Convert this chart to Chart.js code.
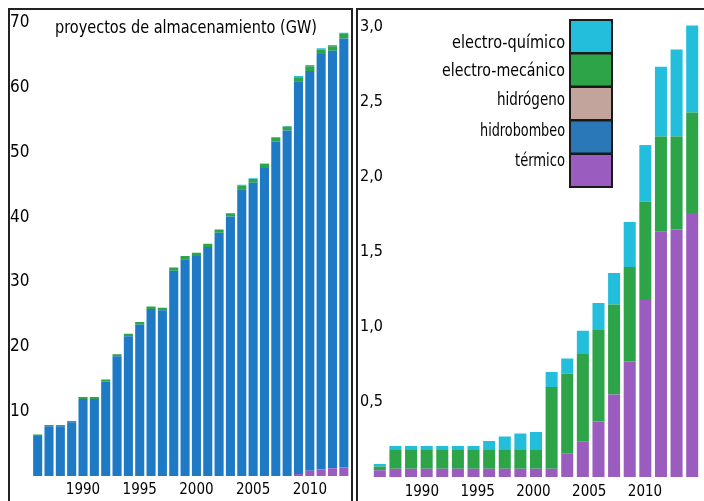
<!DOCTYPE html>
<html>
<head>
<meta charset="utf-8">
<script src="https://cdn.jsdelivr.net/npm/chart.js@4.4.1/dist/chart.umd.min.js"></script>
<style>
  body { margin: 0; background: #fff; width: 704px; height: 501px; overflow: hidden; position: relative; }
  .box { position: absolute; top: 0; height: 501px; }
  .frame { position: absolute; border: 2px solid #222; border-bottom: none; pointer-events: none; }
</style>
</head>
<body>
<div class="box" style="left:0;width:355px"><canvas id="chartIzq"></canvas></div>
<div class="box" style="left:355px;width:349px"><canvas id="chartDer"></canvas></div>
<div class="frame" style="left:8px;top:8px;width:341px;height:493px"></div>
<div class="frame" style="left:356px;top:8px;width:400px;height:493px;border-right:none"></div>
<script>
// --- datos panel izquierdo (GW) ---
const anios = ['1986','1987','1988','1989','1990','1991','1992','1993','1994','1995','1996','1997','1998','1999',
               '2000','2001','2002','2003','2004','2005','2006','2007','2008','2009','2010','2011','2012','2013'];
const izqTermico  = [0,0,0,0,0,0,0,0,0,0,0,0,0,0,0,0,0,0,0,0,0,0,0,0.3,0.8,1.0,1.2,1.3];
const izqHidro    = [6.2,7.7,7.7,8.3,11.9,11.9,14.6,18.5,21.6,23.4,25.8,25.6,31.7,33.5,
                     34.0,35.4,37.6,40.1,44.3,45.3,47.6,51.7,53.4,60.7,61.8,64.2,64.5,66.3];
const izqMecanico = [0.2,0.2,0.2,0.2,0.3,0.3,0.3,0.3,0.4,0.4,0.4,0.4,0.5,0.5,
                     0.5,0.5,0.5,0.5,0.6,0.6,0.6,0.6,0.6,0.6,0.7,0.7,0.7,0.7];
const izqQuimico  = [0,0,0,0,0,0,0,0,0,0,0,0,0,0,0,0,0,0,0.1,0.1,0.1,0.1,0.1,0.2,0.2,0.2,0.2,0.2];
const izqTicks = [0, 10, 20, 30, 40, 50, 60, 70];

// --- datos panel derecho (GW, sin hidrobombeo) ---
const barrasDer = ['b1','b2','b3','b4','b5','b6','b7','b8','b9','b10','b11','b12','b13','b14',
                   'b15','b16','b17','b18','b19','b20','b21'];
const derTermico  = [0.045,0.055,0.055,0.055,0.055,0.055,0.055,0.055,0.055,0.055,0.055,
                     0.055,0.155,0.235,0.37,0.55,0.77,1.18,1.635,1.65,1.76];
const derHidro    = [0,0,0,0,0,0,0,0,0,0,0,0,0,0,0,0,0,0,0,0,0];
const derHidrogeno= [0,0,0,0,0,0,0,0,0,0,0,0,0,0,0,0,0,0,0,0,0];
const derMecanico = [0.025,0.13,0.13,0.13,0.13,0.13,0.13,0.13,0.13,0.13,0.13,
                     0.545,0.535,0.59,0.61,0.60,0.63,0.655,0.635,0.62,0.67];
const derQuimico  = [0.017,0.022,0.022,0.022,0.022,0.022,0.022,0.055,0.085,0.105,0.115,
                     0.10,0.10,0.15,0.18,0.21,0.30,0.378,0.465,0.58,0.58];
const derTicks = [0.5, 1, 1.5, 2, 2.5, 3];
const derTicksAnios = [1990, 1995, 2000, 2005, 2010];

const colores = {
  quimico: '#22bedb',
  mecanico: '#2ca447',
  hidrogeno: '#c3a49d',
  hidro: '#2a78b8',
  termico: '#9a5cbf'
};
const fuente = "'Liberation Sans Narrow', 'DejaVu Sans Condensed', sans-serif";

// texto ajustado a un ancho (tipografia estrecha del original)
function textoAjustado(ctx, txt, x, y, ancho, alin) {
  ctx.save();
  const m = ctx.measureText(txt).width;
  ctx.translate(x, y);
  ctx.scale(ancho / m, 1);
  ctx.textAlign = alin;
  ctx.fillText(txt, 0, 0);
  ctx.restore();
}

const tituloIzq = {
  id: 'tituloIzq',
  afterDraw(chart) {
    const ctx = chart.ctx;
    ctx.save();
    ctx.fillStyle = '#000';
    ctx.font = '17px ' + fuente;
    ctx.textBaseline = 'middle';
    textoAjustado(ctx, 'proyectos de almacenamiento (GW)', 186, 29, 262, 'center');
    ctx.restore();
  }
};

const leyendaDer = {
  id: 'leyendaDer',
  afterDraw(chart) {
    const ctx = chart.ctx;
    const items = [
      ['electro-químico', colores.quimico, 113, 44],
      ['electro-mecánico', colores.mecanico, 123, 72],
      ['hidrógeno', colores.hidrogeno, 68, 101],
      ['hidrobombeo', colores.hidro, 85, 132],
      ['térmico', colores.termico, 50, 162]
    ];
    ctx.save();
    ctx.font = '17px ' + fuente;
    ctx.textBaseline = 'middle';
    items.forEach((it, i) => {
      const y0 = 20 + i * 33.5;
      ctx.fillStyle = it[1];
      ctx.fillRect(215, y0, 42, 33);
      ctx.strokeStyle = '#1a1a1a';
      ctx.lineWidth = 2;
      ctx.strokeRect(215, y0, 42, 33);
      ctx.fillStyle = '#000';
      textoAjustado(ctx, it[0], 210, it[3], it[2], 'right');
    });
    ctx.restore();
  }
};

new Chart(document.getElementById('chartIzq'), {
  type: 'bar',
  data: {
    labels: anios,
    datasets: [
      { label: 'térmico', data: izqTermico, backgroundColor: colores.termico },
      { label: 'hidrobombeo', data: izqHidro, backgroundColor: '#1f7ac6' },
      { label: 'electro-mecánico', data: izqMecanico, backgroundColor: colores.mecanico },
      { label: 'electro-químico', data: izqQuimico, backgroundColor: colores.quimico }
    ]
  },
  options: {
    responsive: true,
    maintainAspectRatio: false,
    animation: false,
    layout: { padding: { left: 10, right: 5.5, top: 23, bottom: 0 } },
    plugins: { legend: { display: false }, tooltip: { enabled: false } },
    datasets: { bar: { barPercentage: 0.8, categoryPercentage: 1 } },
    scales: {
      x: {
        stacked: true,
        grid: { display: false, drawTicks: false },
        border: { display: false },
        afterFit: (s) => { s.height = 25; },
        ticks: {
          autoSkip: false, maxRotation: 0, padding: 5,
          color: '#000',
          font: { size: 15, family: fuente },
          callback: function (v) {
            const a = this.getLabelForValue(v);
            return Number(a) % 5 === 0 ? a : '';
          }
        }
      },
      y: {
        stacked: true,
        min: 0, max: 70,
        grid: { display: false, drawTicks: false },
        border: { display: false },
        afterFit: (s) => { s.width = 22; },
        afterBuildTicks: (s) => { s.ticks = izqTicks.map(v => ({ value: v })); },
        ticks: {
          crossAlign: 'far', padding: 0,
          color: '#000',
          font: { size: 17, family: fuente },
          callback: (v) => v === 0 ? '' : v
        }
      }
    }
  },
  plugins: [tituloIzq]
});

new Chart(document.getElementById('chartDer'), {
  type: 'bar',
  data: {
    labels: barrasDer,
    datasets: [
      { label: 'térmico', data: derTermico, backgroundColor: colores.termico },
      { label: 'hidrobombeo', data: derHidro, backgroundColor: colores.hidro },
      { label: 'hidrógeno', data: derHidrogeno, backgroundColor: colores.hidrogeno },
      { label: 'electro-mecánico', data: derMecanico, backgroundColor: colores.mecanico },
      { label: 'electro-químico', data: derQuimico, backgroundColor: colores.quimico }
    ]
  },
  options: {
    responsive: true,
    maintainAspectRatio: false,
    animation: false,
    layout: { padding: { left: 4, right: 4, top: 12, bottom: 0 } },
    plugins: { legend: { display: false }, tooltip: { enabled: false } },
    datasets: { bar: { barPercentage: 0.77, categoryPercentage: 1 } },
    scales: {
      x: { stacked: true, display: false },
      anio: {
        type: 'linear',
        position: 'bottom',
        offset: false,
        min: 1985.53, max: 2014.93,
        grid: { display: false, drawTicks: false, offset: false },
        border: { display: false },
        afterFit: (s) => { s.height = 24; },
        afterBuildTicks: (s) => { s.ticks = derTicksAnios.map(v => ({ value: v })); },
        ticks: {
          autoSkip: false, maxRotation: 0, padding: 6,
          color: '#000',
          font: { size: 15, family: fuente },
          callback: (v) => String(v)
        }
      },
      y: {
        stacked: true,
        min: 0, max: 3.1,
        grid: { display: false, drawTicks: false },
        border: { display: false },
        afterFit: (s) => { s.width = 13; },
        afterBuildTicks: (s) => { s.ticks = derTicks.map(v => ({ value: v })); },
        ticks: {
          mirror: true, padding: -12,
          color: '#000',
          font: { size: 16, family: fuente },
          callback: (v) => v.toFixed(1).replace('.', ',')
        }
      }
    }
  },
  plugins: [leyendaDer]
});
</script>
</body>
</html>
